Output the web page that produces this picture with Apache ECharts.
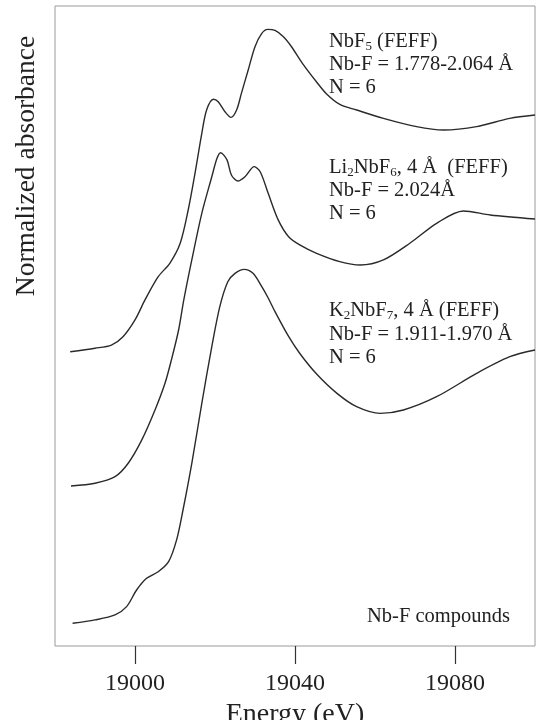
<!DOCTYPE html>
<html>
<head>
<meta charset="utf-8">
<title>Nb K-edge XANES, Nb-F compounds</title>
<script src="https://cdn.jsdelivr.net/npm/echarts@6/dist/echarts.min.js"></script>
<style>
  html, body { margin: 0; padding: 0; background: #fff; }
  #chart { width: 537px; height: 720px; }
</style>
</head>
<body>
<div id="chart"></div>
<script>
// FEFF-calculated Nb K-edge spectra, [energy (eV), normalized absorbance + vertical offset]
const nbf5 = [
  [18983.8, 1.839], [18990.0, 1.861], [18994.1, 1.881], [18997.0, 1.933],
  [19000.0, 2.038], [19002.5, 2.163], [19005.8, 2.308], [19008.7, 2.392],
  [19011.3, 2.517], [19013.3, 2.725], [19015.0, 2.954], [19016.7, 3.204],
  [19017.9, 3.350], [19019.6, 3.417], [19020.8, 3.402], [19022.5, 3.339],
  [19024.0, 3.304], [19025.4, 3.350], [19026.6, 3.454], [19028.3, 3.600],
  [19030.0, 3.746], [19031.7, 3.829], [19033.2, 3.854], [19035.0, 3.847],
  [19037.1, 3.808], [19039.0, 3.750], [19041.9, 3.640], [19045.4, 3.525],
  [19047.9, 3.450], [19051.2, 3.385], [19055.4, 3.350], [19062.1, 3.298],
  [19070.4, 3.246], [19077.1, 3.225], [19085.4, 3.246], [19093.7, 3.298],
  [19100.0, 3.319]
];

const li2nbf6 = [
  [18984.0, 1.000], [18990.0, 1.017], [18995.0, 1.058], [18998.3, 1.142],
  [19001.7, 1.288], [19005.0, 1.475], [19007.5, 1.642], [19009.1, 1.788],
  [19010.9, 1.975], [19012.2, 2.163], [19014.2, 2.413], [19016.7, 2.704],
  [19019.2, 2.933], [19020.5, 3.048], [19021.4, 3.083], [19023.0, 3.038],
  [19024.1, 2.944], [19025.7, 2.906], [19027.5, 2.933], [19029.8, 2.996],
  [19031.3, 2.964], [19033.3, 2.829], [19035.8, 2.663], [19038.4, 2.558],
  [19041.3, 2.505], [19045.4, 2.454], [19051.2, 2.402], [19056.3, 2.381],
  [19062.1, 2.413], [19068.7, 2.517], [19075.4, 2.642], [19082.1, 2.719],
  [19088.8, 2.694], [19100.0, 2.669]
];

const k2nbf7 = [
  [18984.4, 0.142], [18990.0, 0.163], [18995.0, 0.194], [18997.9, 0.246],
  [19000.4, 0.350], [19002.9, 0.423], [19005.8, 0.464], [19008.4, 0.527],
  [19010.4, 0.663], [19012.0, 0.850], [19014.2, 1.142], [19016.7, 1.517],
  [19019.2, 1.871], [19021.2, 2.121], [19023.2, 2.277], [19025.0, 2.329],
  [19027.3, 2.354], [19029.5, 2.329], [19031.7, 2.246], [19033.3, 2.175],
  [19035.0, 2.090], [19038.4, 1.935], [19041.3, 1.825], [19045.4, 1.700],
  [19050.5, 1.579], [19055.4, 1.496], [19061.3, 1.454], [19067.1, 1.475],
  [19075.4, 1.558], [19085.4, 1.704], [19093.7, 1.808], [19100.0, 1.850]
];

const energyTicks = [19000, 19040, 19080];

const serif = '"Liberation Serif", "DejaVu Serif", serif';
const ink = '#222';

const chart = echarts.init(document.getElementById('chart'), null, { renderer: 'canvas' });

function curve(name, data) {
  return {
    name: name,
    type: 'line',
    data: data,
    smooth: 0.3,
    symbol: 'none',
    lineStyle: { color: '#2a2a2a', width: 1.4 },
    animation: false
  };
}

const rich = {
  n: { fontFamily: serif, fontSize: 20.5, color: ink },
  s: { fontFamily: serif, fontSize: 13, color: ink, padding: [9, 0, 0, 0] }
};

function block(x, y, lines, lh) {
  return {
    type: 'text',
    left: x,
    top: y,
    style: {
      text: lines.join('\n'),
      rich: Object.fromEntries(Object.entries(rich).map(([k, v]) => [k, Object.assign({ lineHeight: lh }, v)])),
      fill: ink
    }
  };
}

chart.setOption({
  backgroundColor: '#fff',
  animation: false,
  grid: {
    left: 55, top: 6, width: 480, height: 640,
    outerBoundsMode: 'none', containLabel: false,
    show: true, borderColor: '#9a9a9a', borderWidth: 1, backgroundColor: 'transparent'
  },
  xAxis: {
    type: 'value',
    min: 18980,
    max: 19100,
    axisLine: { show: false },
    splitLine: { show: false },
    axisTick: { show: true, inside: false, length: 18, lineStyle: { color: '#333', width: 1.2 }, customValues: energyTicks },
    axisLabel: { customValues: energyTicks, formatter: v => String(v), margin: 26, fontFamily: serif, fontSize: 24, color: ink },
    name: 'Energy (eV)',
    nameLocation: 'middle',
    nameGap: 46,
    nameTextStyle: { fontFamily: serif, fontSize: 28, color: ink }
  },
  yAxis: {
    type: 'value',
    min: 0,
    max: 4,
    show: false
  },
  series: [
    curve('NbF5', nbf5),
    curve('Li2NbF6', li2nbf6),
    curve('K2NbF7', k2nbf7)
  ],
  graphic: [
    {
      type: 'text',
      x: 27,
      y: 166,
      rotation: Math.PI / 2,
      style: {
        text: 'Normalized absorbance',
        fontFamily: serif,
        fontSize: 27.5,
        fill: ink,
        align: 'center',
        verticalAlign: 'middle'
      }
    },
    block(329, 31, [
      '{n|NbF}{s|5}{n| (FEFF)}',
      '{n|Nb-F = 1.778-2.064 Å}',
      '{n|N = 6}'
    ], 23),
    block(329, 157, [
      '{n|Li}{s|2}{n|NbF}{s|6}{n|, 4 Å  (FEFF)}',
      '{n|Nb-F = 2.024Å}',
      '{n|N = 6}'
    ], 23),
    block(329, 300, [
      '{n|K}{s|2}{n|NbF}{s|7}{n|, 4 Å (FEFF)}',
      '{n|Nb-F = 1.911-1.970 Å}',
      '{n|N = 6}'
    ], 23.5),
    {
      type: 'text',
      left: 367,
      top: 606,
      style: { text: 'Nb-F compounds', fontFamily: serif, fontSize: 20.5, fill: ink }
    }
  ]
});
</script>
</body>
</html>
